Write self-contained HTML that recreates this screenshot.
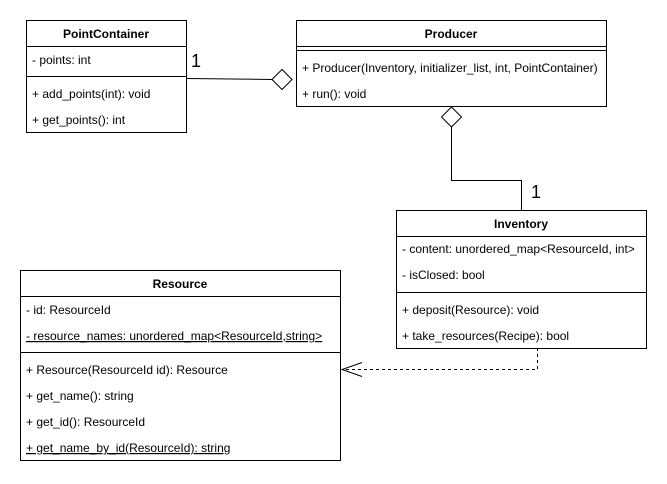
<!DOCTYPE html>
<html><head><meta charset="utf-8"><style>
html,body{margin:0;padding:0;background:#fff;}
svg{display:block;font-family:"Liberation Sans",Arial,sans-serif;font-size:12px;}
</style></head><body>
<svg width="667" height="484" viewBox="0 0 667 484" xmlns="http://www.w3.org/2000/svg">
<rect width="667" height="484" fill="#fff"/>
<g fill="#fff" stroke="#000" stroke-width="1">
<!-- PointContainer -->
<rect x="26.5" y="20.5" width="160" height="112"/>
<line x1="26.5" y1="46.5" x2="186.5" y2="46.5"/>
<line x1="26.5" y1="76.5" x2="186.5" y2="76.5"/>
<!-- Producer -->
<rect x="296.5" y="20.5" width="310" height="86"/>
<line x1="296.5" y1="46.5" x2="606.5" y2="46.5"/>
<line x1="296.5" y1="50.5" x2="606.5" y2="50.5"/>
<!-- Inventory -->
<rect x="396.5" y="210.5" width="250" height="138"/>
<line x1="396.5" y1="236.5" x2="646.5" y2="236.5"/>
<line x1="396.5" y1="292.5" x2="646.5" y2="292.5"/>
<!-- Resource -->
<rect x="20.5" y="270.5" width="320" height="190"/>
<line x1="20.5" y1="296.5" x2="340.5" y2="296.5"/>
<line x1="20.5" y1="352.5" x2="340.5" y2="352.5"/>
</g>
<g fill="none" stroke="#000" stroke-width="1">
<line x1="186.5" y1="78.5" x2="272" y2="79.5"/>
<polygon points="272,79.5 282,69.5 292,79.5 282,89.5" fill="#fff"/>
<polygon points="451.5,107 461.5,117 451.5,127 441.5,117" fill="#fff"/>
<polyline points="451.5,127 451.5,180.5 521.5,180.5 521.5,210"/>
<polyline points="537.5,348 537.5,369.5 342,369.5" stroke-dasharray="3,3"/>
<polyline points="362,362.5 342,369.5 362,376.5"/>
</g>
<g fill="#000">
<text x="106" y="38" text-anchor="middle" font-weight="bold">PointContainer</text>
<text x="32" y="64">- points: int</text>
<text x="32" y="98">+ add_points(int): void</text>
<text x="32" y="124">+ get_points(): int</text>
<text x="451" y="38" text-anchor="middle" font-weight="bold">Producer</text>
<text x="302" y="72">+ Producer(Inventory, initializer_list, int, PointContainer)</text>
<text x="302" y="98">+ run(): void</text>
<text x="521" y="228" text-anchor="middle" font-weight="bold">Inventory</text>
<text x="402" y="253">- content: unordered_map&lt;ResourceId, int&gt;</text>
<text x="402" y="279">- isClosed: bool</text>
<text x="402" y="314">+ deposit(Resource): void</text>
<text x="402" y="340">+ take_resources(Recipe): bool</text>
<text x="180" y="288" text-anchor="middle" font-weight="bold">Resource</text>
<text x="26" y="314">- id: ResourceId</text>
<text x="26" y="340" text-decoration="underline">- resource_names: unordered_map&lt;ResourceId,string&gt;</text>
<text x="26" y="374">+ Resource(ResourceId id): Resource</text>
<text x="26" y="400">+ get_name(): string</text>
<text x="26" y="426">+ get_id(): ResourceId</text>
<text x="26" y="452" text-decoration="underline">+ get_name_by_id(ResourceId): string</text>
<text x="191" y="67" font-size="18">1</text>
<text x="531" y="198" font-size="18">1</text>
</g>
</svg>
</body></html>
